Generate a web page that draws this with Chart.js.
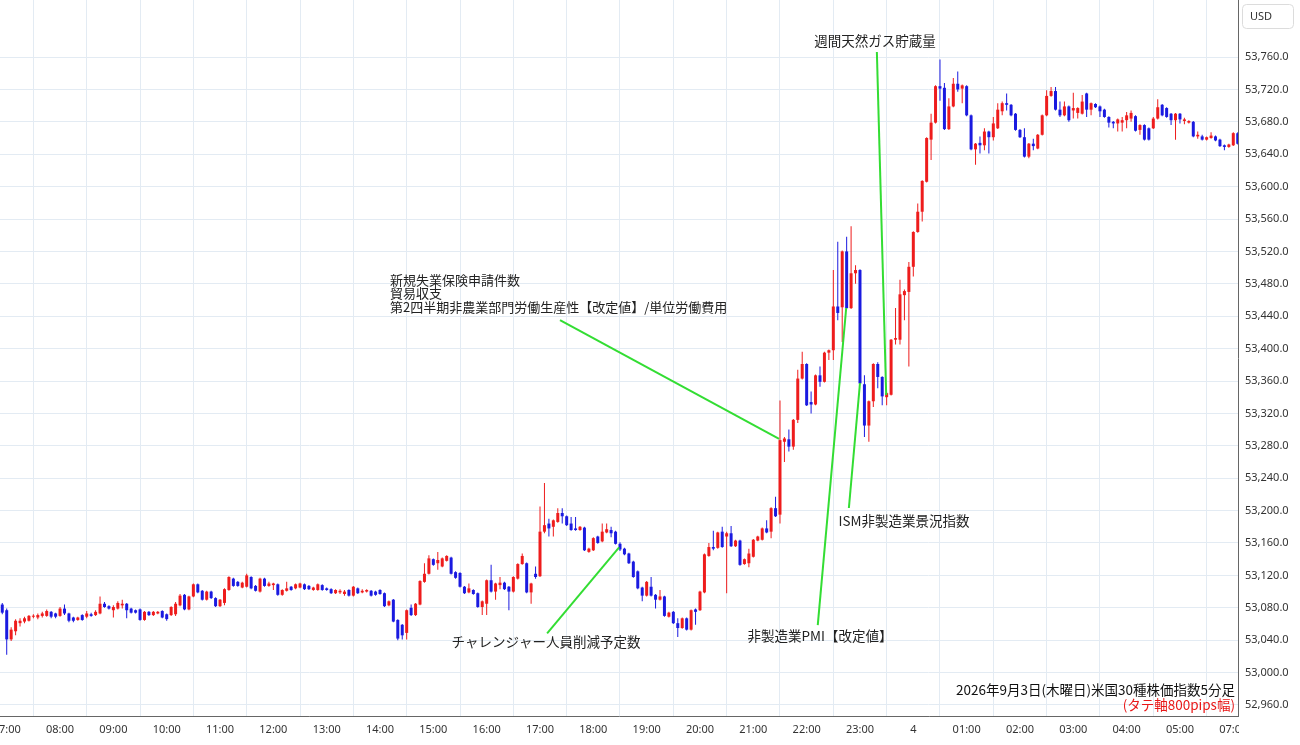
<!DOCTYPE html>
<html lang="ja">
<head>
<meta charset="utf-8">
<title>米国30種株価指数5分足</title>
<script src="https://cdn.jsdelivr.net/npm/chart.js@4.4.1/dist/chart.umd.min.js"></script>
<style>
  html, body { margin:0; padding:0; background:#fff; }
  #wrap { position:relative; width:1300px; height:745px; }
</style>
</head>
<body>
<div id="wrap"><canvas id="chart" width="1300" height="745"></canvas></div>
<script>
// ─── データ（5分足 OHLC、先頭は 06:55 の足）────────────────────────────
const firstIndex = -1;

const opens = [
  53084,
  53077,53041,53051,53061,53063,53064,53069,53068,53070,53070,53075,53073, // 07
  53070,53079,53073,53068,53065,53071,53069,53072,53071,53073,53085,53082, // 08
  53077,53079,53083,53085,53079,53077,53078,53065,53075,53071,53073,53076, // 09
  53072,53071,53072,53083,53096,53078,53094,53109,53101,53090,53100,53092, // 10
  53082,53086,53102,53116,53112,53105,53106,53118,53107,53100,53116,53107, // 11
  53108,53109,53096,53101,53106,53104,53105,53109,53107,53102,53102,53108, // 12
  53104,53103,53098,53099,53097,53102,53095,53104,53099,53100,53101,53100, // 13
  53102,53098,53083,53090,53065,53059,53049,53080,53071,53084,53112,53122, // 14
  53140,53135,53131,53138,53142,53124,53123,53106,53099,53102,53098,53081, // 15
  53085,53114,53100,53108,53111,53106,53100,53116,53134,53135,53099,53122, // 16
  53119,53174,53184,53180,53186,53197,53193,53184,53178,53176,53179,53149, // 17
  53151,53168,53162,53173,53176,53174,53159,53153,53147,53137,53125,53105, // 18
  53095,53106,53096,53090,53094,53069,53075,53061,53055,53067,53053,53078, // 19
  53077,53099,53144,53155,53154,53174,53168,53172,53156,53163,53134,53135, // 20
  53143,53163,53164,53178,53174,53203,53195,53285,53288,53279,53312,53363, // 21
  53381,53334,53331,53367,53359,53395,53398,53452,53451,53520,53450,53493, // 22
  53497,53356,53305,53335,53381,53365,53340,53343,53411,53411,53466,53470, // 23
  53501,53544,53569,53606,53658,53679,53724,53722,53671,53699,53727,53721, // 00
  53724,53688,53646,53654,53651,53668,53661,53672,53693,53703,53701,53690, // 01
  53670,53661,53637,53653,53647,53664,53688,53712,53718,53695,53688,53699, // 02
  53694,53691,53690,53715,53695,53702,53699,53695,53686,53680,53678,53679, // 03
  53682,53684,53687,53670,53676,53672,53672,53684,53701,53697,53690,53682, // 04
  53690,53681,53679,53680,53662,53662,53658,53660,53662,53658,53651,53649, // 05
  53651,53666                                                              // 07
];
const highs = [
  53086,
  53079,53056,53066,53067,53069,53071,53072,53073,53075,53078,53076,53074,
  53081,53084,53074,53069,53069,53072,53076,53074,53077,53094,53087,53083,
  53083,53088,53090,53086,53080,53078,53079,53076,53076,53076,53076,53077,
  53073,53082,53087,53097,53097,53095,53110,53110,53102,53101,53101,53093,
  53091,53104,53119,53117,53113,53112,53122,53119,53108,53117,53117,53112,
  53111,53110,53103,53112,53107,53110,53111,53110,53108,53106,53110,53109,
  53105,53104,53103,53103,53102,53103,53107,53105,53103,53103,53102,53101,
  53103,53099,53089,53091,53066,53060,53078,53084,53086,53114,53135,53145,
  53141,53149,53142,53145,53143,53125,53124,53107,53110,53103,53099,53089,
  53115,53133,53111,53118,53112,53107,53119,53135,53147,53136,53111,53131,
  53205,53234,53190,53189,53203,53203,53194,53192,53192,53181,53180,53154,
  53167,53169,53184,53184,53180,53175,53161,53154,53148,53138,53126,53106,
  53113,53118,53097,53102,53095,53075,53076,53067,53068,53068,53078,53079,
  53101,53147,53160,53175,53174,53180,53174,53181,53164,53164,53141,53153,
  53165,53169,53179,53188,53204,53217,53336,53291,53300,53313,53374,53396,
  53382,53347,53368,53378,53396,53399,53497,53532,53521,53538,53551,53503,
  53498,53367,53336,53382,53383,53366,53346,53412,53450,53485,53473,53507,
  53545,53579,53608,53661,53690,53725,53757,53728,53709,53734,53742,53726,
  53725,53689,53654,53662,53672,53669,53686,53703,53705,53715,53702,53691,
  53671,53672,53654,53659,53665,53689,53719,53723,53723,53705,53705,53700,
  53716,53698,53713,53716,53704,53703,53700,53696,53687,53681,53684,53686,
  53692,53694,53688,53677,53677,53673,53686,53708,53702,53698,53691,53691,
  53691,53685,53682,53681,53668,53664,53662,53667,53663,53659,53652,53653,
  53667,53667
];
const lows = [
  53072,
  53022,53039,53046,53057,53061,53063,53067,53066,53068,53069,53067,53067,
  53069,53071,53062,53062,53064,53064,53067,53069,53070,53072,53080,53078,
  53068,53078,53079,53067,53073,53073,53064,53064,53070,53070,53072,53067,
  53064,53070,53070,53082,53077,53077,53093,53098,53089,53089,53091,53081,
  53081,53083,53101,53106,53106,53104,53105,53103,53100,53099,53106,53106,
  53102,53095,53095,53100,53101,53103,53104,53102,53102,53101,53101,53101,
  53101,53097,53097,53097,53095,53094,53094,53097,53098,53099,53094,53095,
  53096,53081,53082,53062,53040,53041,53041,53070,53070,53083,53111,53121,
  53132,53127,53130,53137,53121,53116,53105,53097,53098,53096,53080,53071,
  53071,53099,53090,53103,53102,53077,53099,53115,53133,53098,53085,53116,
  53118,53172,53168,53168,53185,53184,53181,53175,53175,53175,53150,53148,
  53150,53159,53161,53172,53167,53158,53150,53145,53134,53117,53103,53088,
  53094,53094,53079,53089,53069,53068,53060,53044,53054,53052,53052,53059,
  53076,53098,53143,53151,53153,53154,53098,53155,53155,53132,53133,53130,
  53142,53162,53163,53172,53166,53192,53184,53260,53273,53275,53308,53362,
  53329,53320,53330,53353,53358,53386,53386,53435,53408,53449,53449,53480,
  53356,53291,53285,53328,53351,53330,53330,53342,53405,53405,53435,53378,
  53489,53543,53557,53605,53633,53678,53706,53670,53670,53698,53717,53703,
  53687,53645,53627,53641,53645,53641,53657,53671,53688,53694,53687,53669,
  53660,53636,53635,53645,53646,53663,53687,53711,53694,53686,53687,53680,
  53684,53684,53689,53686,53688,53697,53686,53685,53673,53672,53668,53668,
  53672,53680,53668,53664,53657,53657,53671,53683,53687,53685,53676,53658,
  53678,53677,53678,53661,53659,53657,53657,53659,53656,53649,53645,53648,
  53650,53652
];
const closes = [
  53074,
  53041,53053,53064,53064,53067,53070,53070,53071,53073,53076,53069,53069,
  53079,53073,53064,53064,53068,53065,53073,53070,53075,53085,53081,53079,
  53081,53086,53085,53077,53074,53074,53065,53075,53071,53075,53075,53068,
  53066,53081,53085,53095,53078,53094,53109,53099,53090,53100,53092,53082,
  53090,53103,53118,53107,53107,53111,53120,53104,53101,53116,53107,53110,
  53110,53096,53102,53104,53102,53109,53110,53103,53103,53105,53109,53102,
  53102,53098,53102,53101,53100,53095,53106,53098,53101,53102,53095,53096,
  53097,53082,53088,53063,53042,53046,53077,53071,53085,53113,53122,53141,
  53133,53139,53141,53144,53122,53117,53106,53098,53104,53097,53081,53088,
  53114,53100,53110,53111,53103,53100,53118,53134,53144,53099,53110,53118,
  53174,53182,53178,53188,53197,53193,53182,53176,53176,53180,53151,53153,
  53166,53160,53174,53177,53172,53159,53152,53146,53135,53118,53104,53095,
  53112,53095,53090,53094,53070,53074,53061,53055,53067,53053,53077,53075,
  53100,53146,53155,53153,53173,53155,53172,53156,53163,53133,53140,53147,
  53164,53168,53178,53173,53203,53193,53287,53289,53279,53312,53363,53381,
  53330,53331,53367,53359,53395,53398,53452,53444,53520,53450,53493,53497,
  53357,53305,53335,53381,53365,53341,53345,53411,53413,53467,53471,53501,
  53544,53569,53607,53660,53679,53724,53721,53671,53699,53727,53720,53725,
  53688,53646,53653,53651,53668,53661,53678,53695,53703,53701,53688,53670,
  53661,53637,53653,53650,53664,53688,53712,53718,53695,53688,53699,53682,
  53697,53697,53705,53695,53703,53698,53693,53686,53679,53678,53683,53682,
  53688,53691,53669,53676,53658,53658,53684,53698,53688,53686,53682,53690,
  53683,53683,53681,53662,53664,53658,53661,53663,53657,53650,53649,53652,
  53666,53653
];

// 時間軸の目盛（足の番号）とラベル。06:00〜07:00 は休場で詰めてある
const hourTicks  = [0,12,24,36,48,60,72,84,96,108,120,132,144,156,168,180,192,204,216,228,240,252,264,276];
const hourLabels = ['07:00','08:00','09:00','10:00','11:00','12:00','13:00','14:00','15:00','16:00','17:00','18:00',
                    '19:00','20:00','21:00','22:00','23:00','4','01:00','02:00','03:00','04:00','05:00','07:00'];

const priceTicks = [52960,53000,53040,53080,53120,53160,53200,53240,53280,53320,53360,53400,
                    53440,53480,53520,53560,53600,53640,53680,53720,53760];

// 指標の注記：文字位置と引き出し線（足番号, 価格）
const notes = [
  { text: ['新規失業保険申請件数','貿易収支','第2四半期非農業部門労働生産性【改定値】/単位労働費用'],
    at: [86.25, 53485.0], align: 'left', from: [124.5, 53435.3], to: [173.8, 53288.4] },
  { text: ['チャレンジャー人員削減予定数'], at: [121.35, 53037.8], align: 'center', from: [121.6, 53048.5], to: [137.8, 53154.7] },
  { text: ['非製造業PMI【改定値】'], at: [183.0, 53045.2], align: 'center', from: [182.5, 53058.7], to: [188.9, 53450.1] },
  { text: ['ISM非製造業景況指数'], at: [201.9, 53187.2], align: 'center', from: [189.5, 53203.2], to: [192.0, 53357.5] },
  { text: ['週間天然ガス貯蔵量'], at: [195.4, 53779.8], align: 'center', from: [195.8, 53766.2], to: [197.9, 53342.7] }
];

const titleText = '2026年9月3日(木曜日)米国30種株価指数5分足';
const subText   = '(タテ軸800pips幅)';

// ─── 描画 ───────────────────────────────────────────────────────────────
const UP = '#ee1c1c', DOWN = '#1a1ae0', GRID = '#e3ebf3', NOTE_LINE = '#33dd33';
const JP = '"Noto Sans CJK JP", "Noto Sans", sans-serif';

const xs     = opens.map((_, i) => i + firstIndex);
const colors = opens.map((o, i) => closes[i] >= o ? UP : DOWN);

const overlay = {
  id: 'overlay',
  afterDatasetsDraw(chart){
    const { ctx, scales: { x, y }, chartArea: a } = chart;
    ctx.save();
    ctx.strokeStyle = NOTE_LINE;
    ctx.lineWidth = 2;
    notes.forEach(n => {
      ctx.beginPath();
      ctx.moveTo(x.getPixelForValue(n.from[0]), y.getPixelForValue(n.from[1]));
      ctx.lineTo(x.getPixelForValue(n.to[0]),   y.getPixelForValue(n.to[1]));
      ctx.stroke();
    });
    ctx.fillStyle = '#222';
    ctx.textBaseline = 'middle';
    notes.forEach(n => {
      ctx.textAlign = n.align;
      ctx.font = (n.text.length > 1 ? '13px ' : '13.5px ') + JP;
      const px = x.getPixelForValue(n.at[0]), py = y.getPixelForValue(n.at[1]);
      n.text.forEach((t, k) => ctx.fillText(t, px, py + k * 13.5));
    });

    ctx.font = '13.5px ' + JP;
    ctx.textAlign = 'right';
    ctx.fillStyle = '#111';
    ctx.fillText(titleText, a.right - 3, a.bottom - 26);
    ctx.fillStyle = '#e81818';
    ctx.fillText(subText, a.right - 3, a.bottom - 11);
    ctx.restore();
  },
  afterDraw(chart){
    const { ctx, chartArea: a, width, height } = chart;
    ctx.save();
    // 右下の角は空白
    ctx.fillStyle = '#fff';
    ctx.fillRect(a.right + 1, a.bottom + 1, width - a.right, height - a.bottom);
    // 通貨ラベル
    ctx.strokeStyle = '#dcdcdc';
    ctx.lineWidth = 1;
    ctx.beginPath();
    ctx.roundRect(a.right + 4.5, 4.5, 51, 24, 4);
    ctx.stroke();
    ctx.fillStyle = '#333';
    ctx.font = '11px "Noto Sans", sans-serif';
    ctx.textAlign = 'left';
    ctx.textBaseline = 'middle';
    ctx.fillText('USD', a.right + 12, 17);
    ctx.restore();
  }
};

new Chart(document.getElementById('chart'), {
  type: 'bar',
  data: {
    datasets: [
      { label: 'ヒゲ', data: xs.map((v, i) => ({ x: v, y: [lows[i], highs[i]] })),
        backgroundColor: colors, barThickness: 1, grouped: false, inflateAmount: 0, order: 2 },
      { label: '実体', data: xs.map((v, i) => ({ x: v, y: [opens[i], closes[i]] })),
        backgroundColor: colors, barThickness: 3, grouped: false, inflateAmount: 0, minBarLength: 1, order: 1 }
    ]
  },
  options: {
    responsive: false,
    animation: false,
    layout: { padding: 0 },
    plugins: { legend: { display: false }, tooltip: { enabled: false } },
    scales: {
      x: {
        type: 'linear', min: -1.51, max: 277.06, offset: false,
        grid: { color: GRID, drawTicks: false },
        border: { display: true, color: '#666' },
        ticks: {
          padding: 7, color: '#333', maxRotation: 0, autoSkip: false,
          font: { family: '"Noto Sans", sans-serif', size: 11 },
          callback: v => hourLabels[hourTicks.indexOf(v)] ?? ''
        },
        afterBuildTicks: s => { s.ticks = hourTicks.map(v => ({ value: v })); },
        afterFit: s => { s.height = 29; s.paddingLeft = 0; s.paddingRight = 0; }
      },
      y: {
        position: 'right', min: 52946.4, max: 53830.4,
        grid: { color: GRID, drawTicks: false },
        border: { display: true, color: '#666' },
        ticks: {
          padding: 7, color: '#333',
          font: { family: '"Noto Sans", sans-serif', size: 11 },
          callback: v => v.toLocaleString('en-US', { minimumFractionDigits: 1, maximumFractionDigits: 1 })
        },
        afterBuildTicks: s => { s.ticks = priceTicks.map(v => ({ value: v })); },
        afterFit: s => { s.width = 62; s.paddingTop = 0; s.paddingBottom = 0; }
      }
    }
  },
  plugins: [overlay]
});
</script>
</body>
</html>
